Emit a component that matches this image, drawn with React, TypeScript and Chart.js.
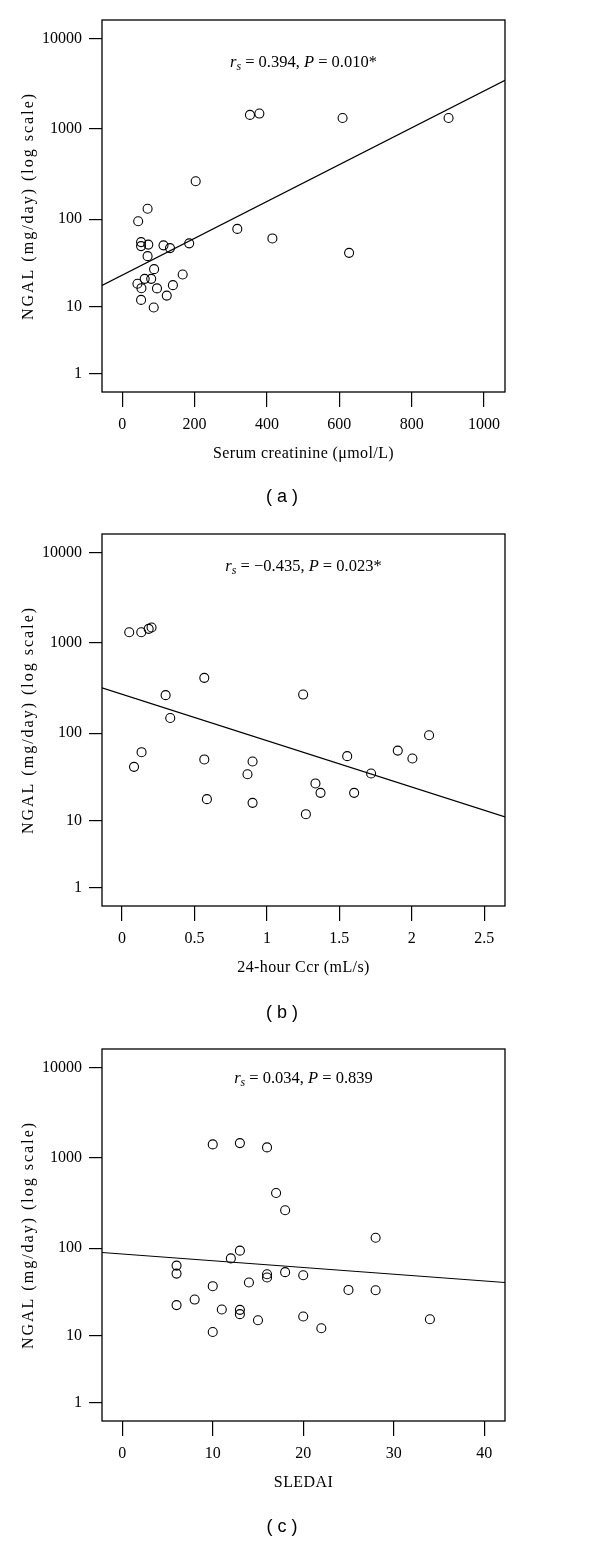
import React, { useEffect, useRef } from 'react';
import { Chart, registerables } from 'chart.js';

Chart.register(...registerables);

const SERIF = '"Liberation Serif", "Times New Roman", serif';
const SANS = '"Liberation Sans", Arial, sans-serif';

// ---------- Panel (a): serum creatinine vs NGAL ----------
const creatinineA = [609, 902, 353, 379, 203, 70, 44, 318, 415, 627, 52, 52, 72, 114, 132, 185, 70, 88, 167, 42, 62, 80, 53, 96, 140, 123, 52, 87];
const ngalA = [1324, 1324, 1432, 1482, 264, 131, 95, 78, 61, 42, 55.5, 50, 52, 51, 47.5, 53.7, 38.5, 27.4, 23.8, 18.6, 21.2, 21.2, 16.5, 16.4, 17.9, 13.5, 12.0, 9.7];
const fitXA = [-56, 1058];
const fitYA = [17.8, 3460];
const xTicksA = [0, 200, 400, 600, 800, 1000];
const xRangeA = [-56, 1058];

// ---------- Panel (b): 24-hour Ccr vs NGAL ----------
const ccrB = [0.05, 0.133, 0.184, 0.204, 0.568, 0.301, 1.25, 0.333, 2.119, 0.135, 1.903, 1.554, 2.004, 0.568, 0.901, 0.083, 0.866, 1.719, 1.335, 1.37, 1.602, 0.586, 0.901, 1.269];
const ngalB = [1317, 1317, 1434, 1485, 412, 265, 269, 148, 95, 61.4, 64, 55.4, 52.2, 50.9, 48.3, 42, 34.6, 35.3, 27.2, 21.2, 21.2, 17.9, 16.2, 11.9];
const fitXB = [-0.138, 2.643];
const fitYB = [319, 11.05];
const xTicksB = [0, 0.5, 1, 1.5, 2, 2.5];
const xRangeB = [-0.138, 2.643];

// ---------- Panel (c): SLEDAI vs NGAL ----------
const sledaiC = [10, 13, 16, 17, 18, 28, 13, 12, 6, 6, 16, 16, 18, 20, 10, 14, 25, 28, 6, 8, 11, 13, 13, 15, 20, 22, 10, 34];
const ngalC = [1415, 1461, 1311, 410, 264, 131, 94, 77, 64, 52, 51.2, 47, 54, 49.9, 37.5, 41.3, 34, 33.7, 22.8, 26.4, 20.3, 20.1, 17.9, 15.2, 16.8, 12.2, 11, 15.6];
const fitXC = [-2.24, 42.3];
const fitYC = [89.6, 41.3];
const xTicksC = [0, 10, 20, 30, 40];
const xRangeC = [-2.24, 42.3];

// ---------- shared y axis (log10(y+1) scale) ----------
const yTickValues = [1, 10, 100, 1000, 10000];
const yRange = [0.25, 16000];
const yTitle = 'NGAL (mg/day) (log scale)';

const tf = (v: number) => Math.log10(v + 1);

type Seg = { t: string; italic?: boolean; sub?: boolean };

// wrap a scale's title drawing so that it uses letter spacing
const spaceTitle = (spacing: string) => (s: any) => {
  if (s.__spaced) return;
  const orig = s.drawTitle;
  s.drawTitle = function (...a: any[]) {
    const c = this.ctx;
    c.save();
    try {
      c.letterSpacing = spacing;
    } catch (e) {
      /* ignore */
    }
    orig.apply(this, a);
    c.restore();
  };
  s.__spaced = true;
};

const decorPlugin = {
  id: 'decor',
  afterDraw(chart: any, _args: any, opts: any) {
    const { ctx, chartArea } = chart;
    const { left, top, right, bottom } = chartArea;
    ctx.save();
    ctx.strokeStyle = '#000';
    ctx.lineWidth = 1.3;
    ctx.strokeRect(left, top, right - left, bottom - top);

    const size = 16.5;
    const fontOf = (s: Seg) => `${s.italic ? 'italic ' : ''}${s.sub ? size * 0.72 : size}px ${SERIF}`;
    const segs: Seg[] = opts.segments || [];
    let total = 0;
    for (const s of segs) {
      ctx.font = fontOf(s);
      total += ctx.measureText(s.t).width;
    }
    let x = (left + right) / 2 - total / 2;
    const y = top + opts.noteOffset;
    ctx.fillStyle = '#000';
    ctx.textAlign = 'left';
    ctx.textBaseline = 'middle';
    for (const s of segs) {
      ctx.font = fontOf(s);
      ctx.fillText(s.t, x, s.sub ? y + 4 : y);
      x += ctx.measureText(s.t).width;
    }

    ctx.font = `18px ${SANS}`;
    ctx.textAlign = 'center';
    ctx.fillText(opts.caption, opts.captionX, opts.captionY);
    ctx.restore();
  },
};

type PanelCfg = {
  xs: number[];
  ys: number[];
  fitX: number[];
  fitY: number[];
  xTicks: number[];
  xRange: number[];
  xTitle: string;
  segments: Seg[];
  noteOffset: number;
  caption: string;
  captionY: number;
  top: number;
};

const panels: PanelCfg[] = [
  {
    xs: creatinineA, ys: ngalA, fitX: fitXA, fitY: fitYA, xTicks: xTicksA, xRange: xRangeA,
    xTitle: 'Serum creatinine (\u03bcmol/L)',
    segments: [{ t: 'r', italic: true }, { t: 's', italic: true, sub: true }, { t: ' = 0.394, ' }, { t: 'P', italic: true }, { t: ' = 0.010*' }],
    noteOffset: 43, caption: '( a )', captionY: 497, top: 0,
  },
  {
    xs: ccrB, ys: ngalB, fitX: fitXB, fitY: fitYB, xTicks: xTicksB, xRange: xRangeB,
    xTitle: '24-hour Ccr (mL/s)',
    segments: [{ t: 'r', italic: true }, { t: 's', italic: true, sub: true }, { t: ' = \u22120.435, ' }, { t: 'P', italic: true }, { t: ' = 0.023*' }],
    noteOffset: 33, caption: '( b )', captionY: 499, top: 514,
  },
  {
    xs: sledaiC, ys: ngalC, fitX: fitXC, fitY: fitYC, xTicks: xTicksC, xRange: xRangeC,
    xTitle: 'SLEDAI',
    segments: [{ t: 'r', italic: true }, { t: 's', italic: true, sub: true }, { t: ' = 0.034, ' }, { t: 'P', italic: true }, { t: ' = 0.839' }],
    noteOffset: 30, caption: '( c )', captionY: 498, top: 1029,
  },
];

function Panel({ cfg }: { cfg: PanelCfg }) {
  const ref = useRef<HTMLCanvasElement | null>(null);
  useEffect(() => {
    if (!ref.current) return;
    const points = cfg.xs.map((x, i) => ({ x, y: tf(cfg.ys[i]) }));
    const fit = cfg.fitX.map((x, i) => ({ x, y: tf(cfg.fitY[i]) }));
    const chart = new Chart(ref.current, {
      type: 'scatter',
      data: {
        datasets: [
          {
            data: points,
            pointStyle: 'circle',
            pointRadius: 4.5,
            pointBorderWidth: 1.1,
            pointBorderColor: '#000',
            pointBackgroundColor: 'rgba(0,0,0,0)',
            showLine: false,
          } as any,
          {
            type: 'line',
            data: fit,
            borderColor: '#000',
            borderWidth: 1.2,
            pointRadius: 0,
            fill: false,
            tension: 0,
          } as any,
        ],
      },
      options: {
        responsive: false,
        animation: false,
        devicePixelRatio: 1,
        events: [],
        layout: { padding: { left: 0, top: 20, right: 95, bottom: 0 } },
        plugins: {
          legend: { display: false },
          tooltip: { enabled: false },
          decor: {
            segments: cfg.segments,
            noteOffset: cfg.noteOffset,
            caption: cfg.caption,
            captionX: 282,
            captionY: cfg.captionY,
          },
        } as any,
        scales: {
          x: {
            type: 'linear',
            position: 'bottom',
            min: cfg.xRange[0],
            max: cfg.xRange[1],
            afterBuildTicks: (s: any) => {
              s.ticks = cfg.xTicks.map((v) => ({ value: v }));
            },
            afterFit: (s: any) => {
              s.height = 122;
            },
            afterUpdate: spaceTitle('0.4px'),
            border: { display: false },
            grid: { drawOnChartArea: false, drawTicks: true, tickLength: 15, color: '#000', lineWidth: 1.2 },
            ticks: {
              color: '#000',
              font: { family: SERIF, size: 16 },
              padding: 8,
              maxRotation: 0,
              autoSkip: false,
              callback: (v: any) => String(v),
            },
            title: {
              display: true,
              text: cfg.xTitle,
              color: '#000',
              font: { family: SERIF, size: 16 },
              padding: { top: 0, bottom: 50.5 },
            },
          },
          y: {
            type: 'linear',
            position: 'left',
            min: tf(yRange[0]),
            max: tf(yRange[1]),
            afterBuildTicks: (s: any) => {
              s.ticks = yTickValues.map((v) => ({ value: tf(v) }));
            },
            afterFit: (s: any) => {
              s.width = 102;
            },
            afterUpdate: spaceTitle('2px'),
            border: { display: false },
            grid: { drawOnChartArea: false, drawTicks: true, tickLength: 13, color: '#000', lineWidth: 1.2 },
            ticks: {
              color: '#000',
              font: { family: SERIF, size: 16 },
              padding: 7,
              autoSkip: false,
              callback: (_v: any, i: number) => String(yTickValues[i]),
            },
            title: {
              display: true,
              text: yTitle,
              color: '#000',
              font: { family: SERIF, size: 16 },
              padding: { top: 19, bottom: 0 },
            },
          },
        },
      },
      plugins: [decorPlugin as any],
    });
    return () => chart.destroy();
  }, [cfg]);

  return (
    <canvas
      ref={ref}
      width={600}
      height={514}
      style={{ position: 'absolute', left: 0, top: cfg.top, width: 600, height: 514 }}
    />
  );
}

export default function App() {
  return (
    <div style={{ position: 'absolute', left: 0, top: 0, width: 600, height: 1542, background: '#fff' }}>
      {panels.map((p, i) => (
        <Panel key={i} cfg={p} />
      ))}
    </div>
  );
}
